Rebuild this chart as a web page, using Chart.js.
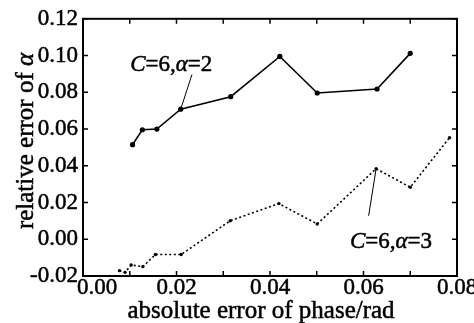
<!DOCTYPE html>
<html>
<head>
<meta charset="utf-8">
<script src="https://cdn.jsdelivr.net/npm/chart.js@4/dist/chart.umd.min.js"></script>
<style>
  html, body { margin: 0; padding: 0; background: #fff; }
</style>
</head>
<body>
<canvas id="chart" width="474" height="323"></canvas>
<script>
// data
const phaseErrA2 = [0.0106, 0.0127, 0.0158, 0.0209, 0.0316, 0.0421, 0.0501, 0.0629, 0.0700];
const relErrA2   = [0.0515, 0.0596, 0.0600, 0.0708, 0.0776, 0.0995, 0.0796, 0.0818, 0.1012];
const phaseErrA3 = [0.0078, 0.0090, 0.0103, 0.0128, 0.0155, 0.0210, 0.0315, 0.0419, 0.0501, 0.0627, 0.0700, 0.0784];
const relErrA3   = [-0.0171, -0.0180, -0.0140, -0.0149, -0.0083, -0.0083, 0.0101, 0.0194, 0.0083, 0.0384, 0.0283, 0.0553];
const xLabels = [0.00, 0.02, 0.04, 0.06, 0.08];

const FONT = '"Liberation Serif", "Times New Roman", serif';
const INK = 0.5; // slight stroke so text looks as heavy as the scan

function toPoints(xs, ys) {
    return xs.map((x, i) => ({ x: x, y: ys[i] }));
}

function inkText(ctx, s, x, y) {
    ctx.fillText(s, x, y);
    ctx.strokeText(s, x, y);
}

// draws text pieces with mixed italic / upright style
function drawRich(ctx, parts, x, y, size) {
    let cx = x;
    parts.forEach(p => {
        ctx.font = (p.it ? 'italic ' : '') + size + 'px ' + FONT;
        inkText(ctx, p.t, cx, y);
        cx += ctx.measureText(p.t).width;
    });
}
function richWidth(ctx, parts, size) {
    let w = 0;
    parts.forEach(p => {
        ctx.font = (p.it ? 'italic ' : '') + size + 'px ' + FONT;
        w += ctx.measureText(p.t).width;
    });
    return w;
}

// frame, inner ticks, x labels, titles and the two callouts
const framePlugin = {
    id: 'frame',
    afterDraw(chart) {
        const { ctx, chartArea: a, scales: { x, y } } = chart;
        ctx.save();
        ctx.strokeStyle = '#000';
        ctx.fillStyle = '#000';

        ctx.lineWidth = 2;
        ctx.strokeRect(a.left, a.top, a.right - a.left, a.bottom - a.top);

        ctx.lineWidth = 1.5;
        ctx.beginPath();
        x.ticks.forEach(t => {
            const px = x.getPixelForValue(t.value);
            ctx.moveTo(px, a.bottom); ctx.lineTo(px, a.bottom - 5);
            ctx.moveTo(px, a.top); ctx.lineTo(px, a.top + 5);
        });
        y.ticks.forEach(t => {
            const py = y.getPixelForValue(t.value);
            ctx.moveTo(a.left, py); ctx.lineTo(a.left + 5, py);
            ctx.moveTo(a.right, py); ctx.lineTo(a.right - 5, py);
        });
        ctx.stroke();

        ctx.lineWidth = INK;

        // x tick labels (first one pushed right like in the figure)
        ctx.font = '23px ' + FONT;
        ctx.textBaseline = 'alphabetic';
        ctx.textAlign = 'left';
        xLabels.forEach(v => {
            const px = x.getPixelForValue(v);
            const s = v.toFixed(2);
            const w = ctx.measureText(s).width;
            inkText(ctx, s, Math.max(px - w / 2, a.left - 6), a.bottom + 18);
        });

        // x title
        ctx.font = '25px ' + FONT;
        const xt = 'absolute error of phase/rad';
        inkText(ctx, xt, 261 - ctx.measureText(xt).width / 2, 318);

        // y title, rotated
        const yt = [{ t: 'relative error of ' }, { t: 'α', it: true }];
        ctx.save();
        ctx.translate(33, 141);
        ctx.rotate(-Math.PI / 2);
        drawRich(ctx, yt, -richWidth(ctx, yt, 25) / 2, 0, 25);
        ctx.restore();

        // callouts
        ctx.lineWidth = 1;
        ctx.beginPath();
        ctx.moveTo(x.getPixelForValue(0.0233), y.getPixelForValue(0.0896));
        ctx.lineTo(x.getPixelForValue(phaseErrA2[3]), y.getPixelForValue(relErrA2[3]));
        ctx.moveTo(x.getPixelForValue(0.0611), y.getPixelForValue(0.0128));
        ctx.lineTo(x.getPixelForValue(phaseErrA3[9]), y.getPixelForValue(relErrA3[9]));
        ctx.stroke();

        ctx.lineWidth = INK;
        drawRich(ctx, [{ t: 'C', it: true }, { t: '=6,' }, { t: 'α', it: true }, { t: '=2' }],
            x.getPixelForValue(0.0101), y.getPixelForValue(0.0914), 23);
        drawRich(ctx, [{ t: 'C', it: true }, { t: '=6,' }, { t: 'α', it: true }, { t: '=3' }],
            x.getPixelForValue(0.0571), y.getPixelForValue(-0.0045), 23);

        ctx.restore();
    }
};

new Chart(document.getElementById('chart').getContext('2d'), {
    type: 'scatter',
    data: {
        datasets: [
            {
                label: 'C=6, α=2',
                data: toPoints(phaseErrA2, relErrA2),
                showLine: true,
                borderColor: '#000',
                backgroundColor: '#000',
                borderWidth: 1.6,
                pointRadius: 2.6,
                pointBorderWidth: 0
            },
            {
                label: 'C=6, α=3',
                data: toPoints(phaseErrA3, relErrA3),
                showLine: true,
                borderColor: '#000',
                backgroundColor: '#000',
                borderWidth: 1.6,
                borderDash: [2, 2.5],
                pointRadius: 1.7,
                pointBorderWidth: 0
            }
        ]
    },
    options: {
        responsive: false,
        animation: false,
        devicePixelRatio: 1,
        layout: { padding: { top: 15, right: 17, left: 0, bottom: 0 } },
        plugins: {
            legend: { display: false },
            tooltip: { enabled: false }
        },
        scales: {
            x: {
                type: 'linear',
                min: 0,
                max: 0.08,
                ticks: { stepSize: 0.01, display: false },
                grid: { display: false, drawTicks: false },
                border: { display: false },
                afterFit: s => { s.height = 47; }
            },
            y: {
                type: 'linear',
                min: -0.02,
                max: 0.12,
                ticks: {
                    stepSize: 0.02,
                    padding: 5,
                    color: '#000',
                    textStrokeColor: '#000',
                    textStrokeWidth: INK,
                    font: { family: FONT, size: 23 },
                    callback: v => Math.abs(v) < 1e-9 ? '0.00' : v.toFixed(2)
                },
                grid: { display: false, drawTicks: false },
                border: { display: false },
                afterFit: s => { s.width = 83; }
            }
        }
    },
    plugins: [framePlugin]
});
</script>
</body>
</html>
